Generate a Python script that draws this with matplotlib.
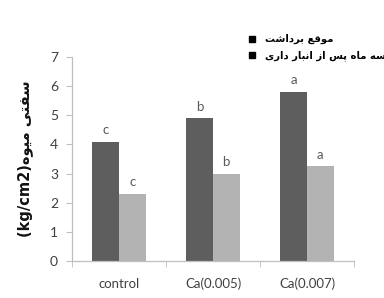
import matplotlib
matplotlib.use("Agg")
import matplotlib.pyplot as plt
from matplotlib.lines import Line2D
import numpy as np

categories = ["control", "Ca(0.005)", "Ca(0.007)"]
harvest = [4.1, 4.9, 5.8]
storage = [2.3, 3.0, 3.25]
harvest_letters = ["c", "b", "a"]
storage_letters = ["c", "b", "a"]
series_names = ["موقع برداشت", "سه ماه پس از انبار داری"]
ylabel_fa = "سفتی میوه"
ylabel_unit = "(kg/cm2)"
yticks = [0, 1, 2, 3, 4, 5, 6, 7]

# --- minimal Persian shaping (contextual forms + visual reordering) ---
FORMS = {
    'ا': ('\uFE8D', '\uFE8E', None, None),
    'ب': ('\uFE8F', '\uFE90', '\uFE91', '\uFE92'),
    'پ': ('\uFB56', '\uFB57', '\uFB58', '\uFB59'),
    'ت': ('\uFE95', '\uFE96', '\uFE97', '\uFE98'),
    'د': ('\uFEA9', '\uFEAA', None, None),
    'ر': ('\uFEAD', '\uFEAE', None, None),
    'ز': ('\uFEAF', '\uFEB0', None, None),
    'س': ('\uFEB1', '\uFEB2', '\uFEB3', '\uFEB4'),
    'ش': ('\uFEB5', '\uFEB6', '\uFEB7', '\uFEB8'),
    'ع': ('\uFEC9', '\uFECA', '\uFECB', '\uFECC'),
    'ف': ('\uFED1', '\uFED2', '\uFED3', '\uFED4'),
    'ق': ('\uFED5', '\uFED6', '\uFED7', '\uFED8'),
    'م': ('\uFEE1', '\uFEE2', '\uFEE3', '\uFEE4'),
    'ن': ('\uFEE5', '\uFEE6', '\uFEE7', '\uFEE8'),
    'ه': ('\uFEE9', '\uFEEA', '\uFEEB', '\uFEEC'),
    'و': ('\uFEED', '\uFEEE', None, None),
    'ی': ('\uFBFC', '\uFBFD', '\uFBFE', '\uFBFF'),
}


def shape_fa(s):
    out = []
    n = len(s)
    for i, ch in enumerate(s):
        if ch not in FORMS:
            out.append(ch)
            continue
        iso, fin, ini, med = FORMS[ch]
        prev = s[i - 1] if i > 0 else ''
        nxt = s[i + 1] if i < n - 1 else ''
        jp = prev in FORMS and FORMS[prev][2] is not None
        jn = ini is not None and nxt in FORMS
        if jp and jn:
            out.append(med)
        elif jp:
            out.append(fin)
        elif jn:
            out.append(ini)
        else:
            out.append(iso)
    return ''.join(reversed(out))


plt.rcParams['font.family'] = ['Lato', 'DejaVu Sans']

fig = plt.figure(figsize=(3.84, 2.98), dpi=100)
ax = fig.add_axes([72 / 384, 37 / 298, 282 / 384, 204 / 298])

x = np.arange(len(categories))
w = 0.283
dark = '#5e5e5e'
light = '#b3b3b3'
ax.bar(x - w / 2, harvest, w, color=dark, label=series_names[0])
ax.bar(x + w / 2, storage, w, color=light, label=series_names[1])

for xi, v, t in zip(x, harvest, harvest_letters):
    ax.annotate(t, (xi - w / 2, v), xytext=(0, 4), textcoords='offset points',
                ha='center', va='bottom', fontsize=9.5, color='#595959')
for xi, v, t in zip(x, storage, storage_letters):
    ax.annotate(t, (xi + w / 2, v), xytext=(0, 4), textcoords='offset points',
                ha='center', va='bottom', fontsize=9.5, color='#595959')

ax.set_xlim(-0.5, len(categories) - 0.5)
ax.set_ylim(0, 7)
ax.set_yticks(yticks)
ax.set_xticks(x)
ax.set_xticklabels(categories)
ax.set_xticks(np.arange(len(categories) + 1) - 0.5, minor=True)
ax.tick_params(axis='x', which='major', length=0, pad=12, labelsize=9.5, labelcolor='#404040')
ax.tick_params(axis='x', which='minor', length=4, color='#bfbfbf', direction='out')
ax.tick_params(axis='y', length=4, color='#bfbfbf', direction='out', labelsize=10, labelcolor='#404040', pad=6)

for side in ['top', 'right']:
    ax.spines[side].set_visible(False)
for side in ['left', 'bottom']:
    ax.spines[side].set_color('#bfbfbf')
    ax.spines[side].set_linewidth(0.9)

ylab = ylabel_unit + shape_fa(ylabel_fa)
fig.text(25 / 384, 1 - 159 / 298, ylab, rotation=90, ha='center', va='center',
         fontsize=10.5, fontweight='bold', family=['DejaVu Sans'], color='#111111')

handles = [Line2D([], [], marker='s', color='black', linestyle='none', markersize=5),
           Line2D([], [], marker='s', color='black', linestyle='none', markersize=5)]
leg = fig.legend(handles, [shape_fa(s) for s in series_names],
                 loc='upper left', bbox_to_anchor=(248 / 384, 1 - 34 / 298),
                 frameon=False, handlelength=0.8, handletextpad=0.9,
                 labelspacing=0.6, borderpad=0, borderaxespad=0,
                 prop={'family': 'DejaVu Sans', 'weight': 'bold', 'size': 7.2})

fig.savefig('out.png', dpi=100)
